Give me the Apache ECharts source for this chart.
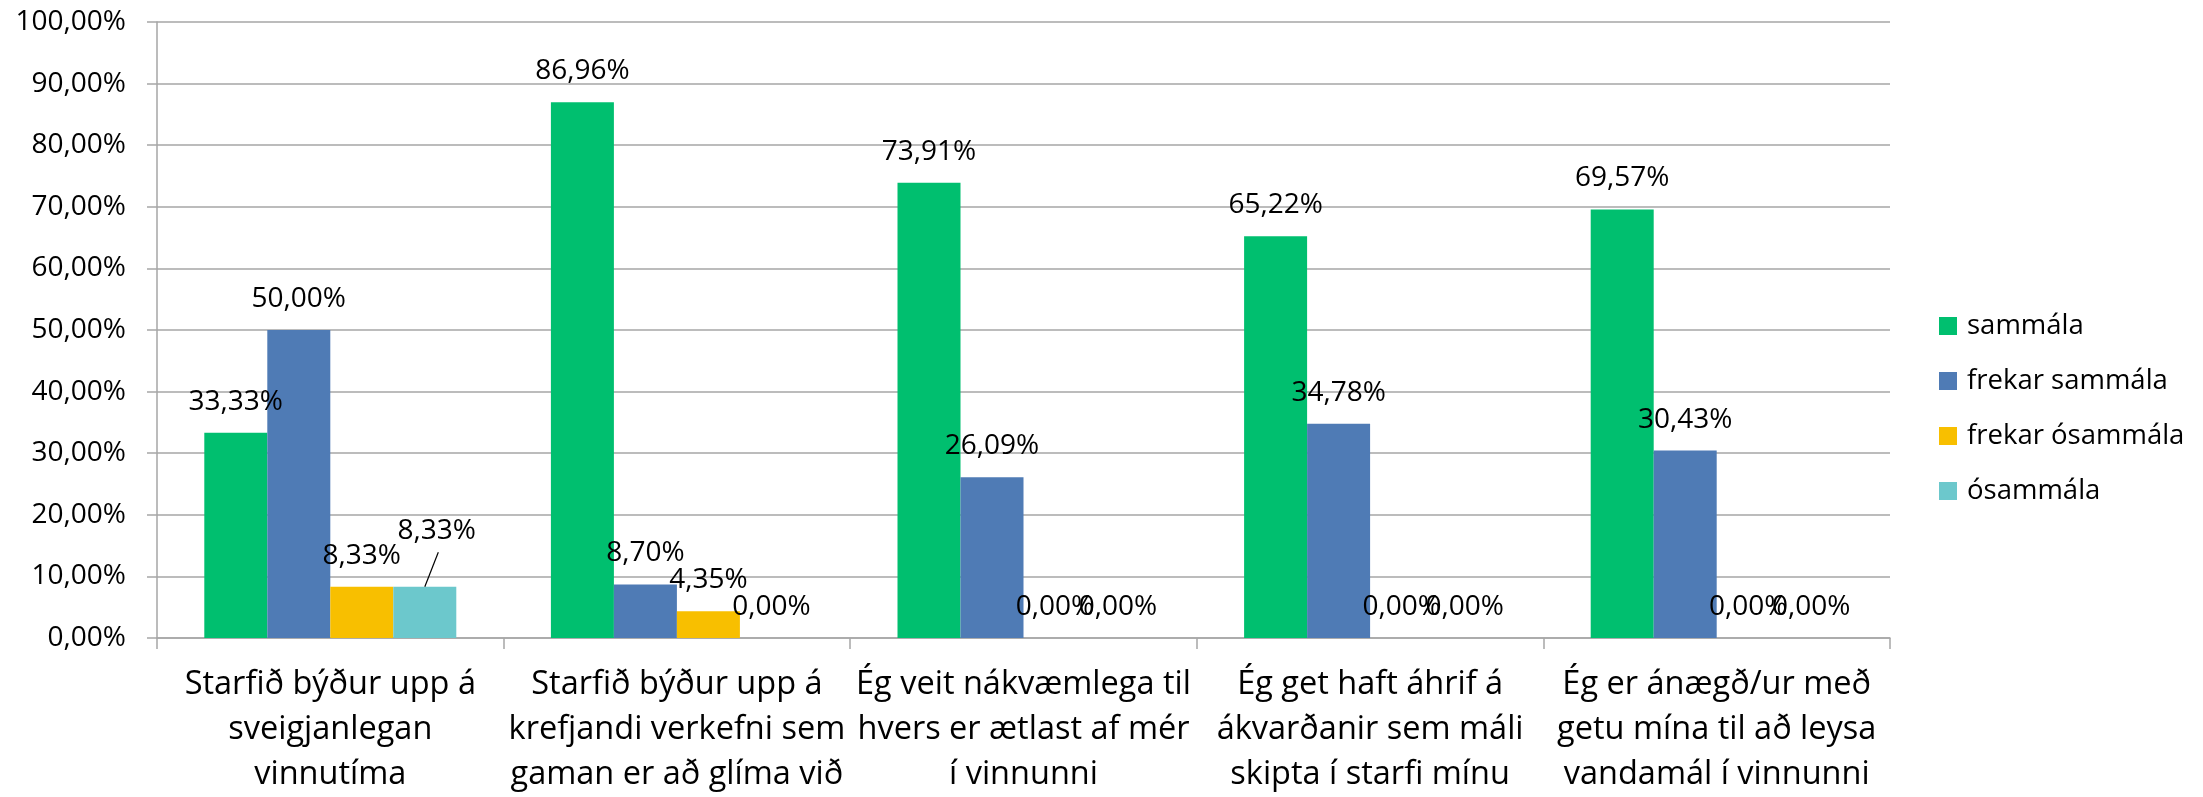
<!DOCTYPE html>
<html>
<head>
<meta charset="utf-8">
<script src="https://cdn.jsdelivr.net/npm/echarts@6/dist/echarts.min.js"></script>
<style>
html,body{margin:0;padding:0;background:#fff;}
#chart{width:2203px;height:797px;}
</style>
</head>
<body>
<div id="chart"></div>
<script>
const categories = [
  "Starfið býður upp á\nsveigjanlegan\nvinnutíma",
  "Starfið býður upp á\nkrefjandi verkefni sem\ngaman er að glíma við",
  "Ég veit nákvæmlega til\nhvers er ætlast af mér\ní vinnunni",
  "Ég get haft áhrif á\nákvarðanir sem máli\nskipta í starfi mínu",
  "Ég er ánægð/ur með\ngetu mína til að leysa\nvandamál í vinnunni"
];
const seriesNames = ["sammála", "frekar sammála", "frekar ósammála", "ósammála"];
const sammala = [33.33, 86.96, 73.91, 65.22, 69.57];
const frekarSammala = [50.00, 8.70, 26.09, 34.78, 30.43];
const frekarOsammala = [8.33, 4.35, 0, 0, 0];
const osammala = [8.33, 0, 0, 0, 0];
const yMin = 0, yMax = 100, yInterval = 10;

const colors = ['#00BF6F', '#4F7BB5', '#F8BF00', '#6CC8CC'];
const FONT = 'Open Sans';
const fmt = v => Number(v).toFixed(2).replace('.', ',') + '%';

const allValues = [sammala, frekarSammala, frekarOsammala, osammala];

const chart = echarts.init(document.getElementById('chart'), null, {renderer: 'canvas'});

const BAR_W = 63;
const MOVE_DX = 12, MOVE_DY = -25;

const series = allValues.map((vals, si) => ({
  name: seriesNames[si],
  type: 'bar',
  barWidth: BAR_W,
  barGap: '0%',
  itemStyle: {color: colors[si]},
  data: vals,
  label: {
    show: true,
    position: 'top',
    distance: 17,
    formatter: p => fmt(p.value),
    color: '#000',
    fontFamily: FONT,
    fontSize: 28,
    lineHeight: 28
  },
  labelLayout: si === 3 ? function (p) {
    if (p.dataIndex === 0) return {dx: MOVE_DX, dy: MOVE_DY};
    return {};
  } : undefined
}));

// leader line for the moved "ósammála" label of the first category,
// anchored on the bar top through the axis scales
series.push({
  name: 'leader',
  type: 'custom',
  silent: true,
  z: 5,
  data: [[0, osammala[0]]],
  renderItem: function (params, api) {
    const p = api.coord([api.value(0), api.value(1)]);
    const x0 = p[0] + 1.5 * BAR_W;
    const y0 = p[1];
    return {
      type: 'line',
      shape: {x1: x0, y1: y0, x2: x0 + 13.5, y2: y0 - 34.5},
      style: {stroke: '#000', lineWidth: 1.2}
    };
  }
});

const option = {
  animation: false,
  backgroundColor: '#fff',
  color: colors,
  grid: {left: 157, right: 313, top: 22, bottom: 158, containLabel: false},
  legend: {
    orient: 'vertical',
    left: 1934,
    top: 307,
    icon: 'rect',
    itemWidth: 18,
    itemHeight: 18,
    itemGap: 27,
    data: seriesNames,
    textStyle: {fontFamily: FONT, fontSize: 27.5, lineHeight: 28, color: '#000', padding: [0, 0, 0, 5]}
  },
  xAxis: {
    type: 'category',
    data: categories,
    axisLine: {show: true, lineStyle: {color: '#A6A6A6', width: 1.5}},
    axisTick: {show: true, length: 11, alignWithLabel: false, lineStyle: {color: '#A6A6A6', width: 1.5}},
    axisLabel: {
      interval: 0,
      margin: 24,
      color: '#000',
      fontFamily: FONT,
      fontSize: 32.5,
      lineHeight: 45,
      align: 'center'
    }
  },
  yAxis: {
    type: 'value',
    min: yMin,
    max: yMax,
    interval: yInterval,
    axisLine: {show: true, lineStyle: {color: '#A6A6A6', width: 1.5}},
    axisTick: {show: true, length: 10, lineStyle: {color: '#A6A6A6', width: 1.5}},
    splitLine: {show: true, lineStyle: {color: '#A6A6A6', width: 1.5}},
    axisLabel: {
      margin: 31,
      formatter: v => fmt(v),
      color: '#000',
      fontFamily: FONT,
      fontSize: 28
    }
  },
  series: series
};
chart.setOption(option);
</script>
</body>
</html>
